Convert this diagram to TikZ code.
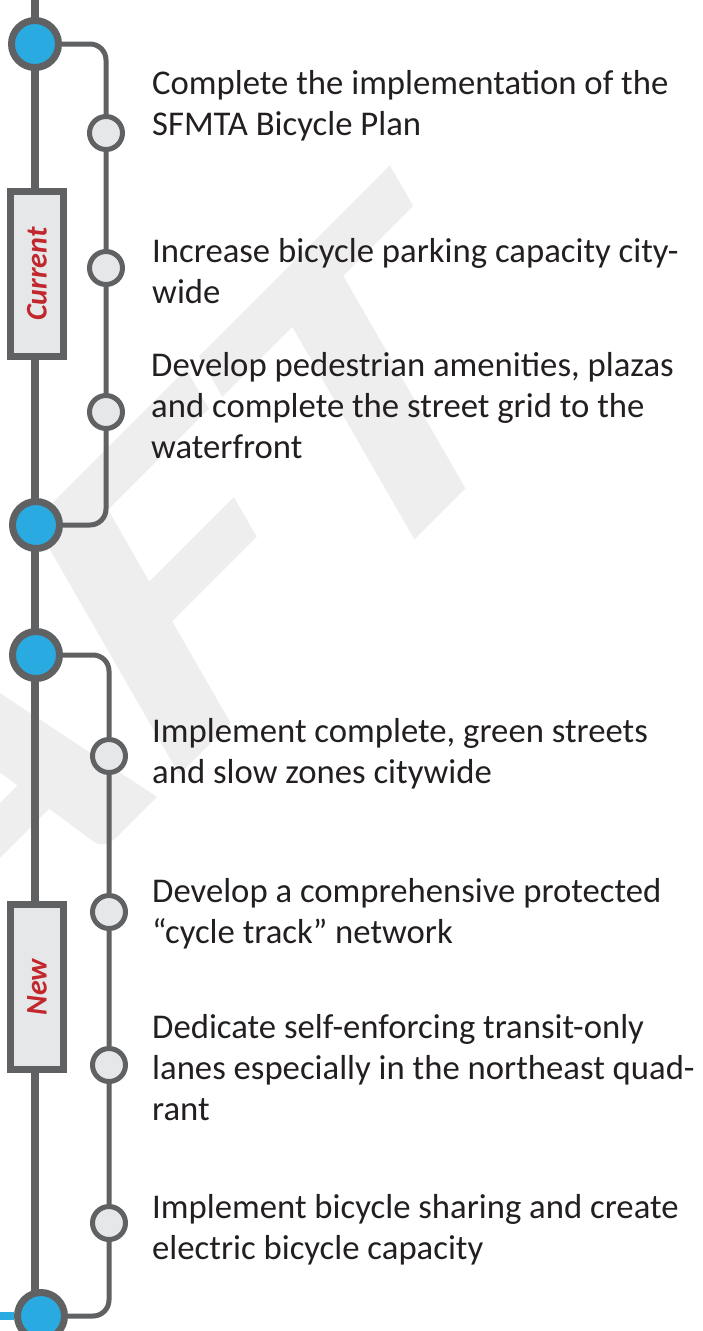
\documentclass[tikz,border=0pt]{standalone}
\usepackage{fontspec}
\setmainfont{Carlito}
\usetikzlibrary{backgrounds}
\definecolor{linegray}{RGB}{96,97,99}
\definecolor{dotblue}{RGB}{41,171,226}
\definecolor{boxfill}{RGB}{230,231,232}
\definecolor{labelred}{RGB}{193,39,45}
\definecolor{draftgray}{RGB}{238,238,238}
\definecolor{goaltext}{RGB}{35,31,32}
\tikzset{
  hub/.style={circle,draw=linegray,line width=7pt,fill=dotblue,minimum size=47pt,inner sep=0pt},
  stop/.style={circle,draw=linegray,line width=5pt,fill=boxfill,minimum size=33pt,inner sep=0pt},
  phase/.style={draw=linegray,line width=7pt,fill=boxfill,rotate=90,minimum width=165pt,
    minimum height=53pt,inner sep=0pt,text=labelred,font=\fontsize{30}{30}\selectfont\bfseries\itshape},
  trunk/.style={linegray,line width=8pt},
  branch/.style={linegray,line width=5pt,rounded corners=16pt},
  goal/.style={anchor=base west,inner sep=0pt,align=left,text=goaltext,font=\fontsize{34.7}{41}\selectfont},
}
\begin{document}
\begin{tikzpicture}[x=1pt,y=-1pt]
\useasboundingbox (0,0) rectangle (702,1331);
%\draw[step=50,gray,very thin,dashed] (0,0) grid (702,1331);
\coordinate (top) at (35,0);
\coordinate (bottom) at (35,1331);
\coordinate (edge) at (0,1316);
\node[hub] (hub1) at (35,44) {};
\node[hub] (hub2) at (36,525) {};
\node[hub] (hub3) at (36,655) {};
\node[hub] (hub4) at (41,1316) {};
\node[phase] (current) at (37,274) {Current};
\node[phase] (new) at (37,987) {New};
\node[stop] (s1) at (106,133) {};
\node[stop] (s2) at (106,268) {};
\node[stop] (s3) at (106,412) {};
\node[stop] (s4) at (109,756) {};
\node[stop] (s5) at (109,912) {};
\node[stop] (s6) at (109,1065) {};
\node[stop] (s7) at (109,1223) {};
% base anchor sits on the last line
\node[goal] (g1) at (152,135) {Complete the implementation of the\\SFMTA Bicycle Plan};
\node[goal] (g2) at (152,303) {Increase bicycle parking capacity city-\\wide};
\node[goal] (g3) at (151,458) {Develop pedestrian amenities, plazas\\and complete the street grid to the\\waterfront};
\node[goal] (g4) at (152,783) {Implement complete, green streets\\and slow zones citywide};
\node[goal] (g5) at (152,943) {Develop a comprehensive protected\\“cycle track” network};
\node[goal] (g6) at (152,1120) {Dedicate self-enforcing transit-only\\lanes especially in the northeast quad-\\rant};
\node[goal] (g7) at (152,1259) {Implement bicycle sharing and create\\electric bicycle capacity};
\begin{pgfonlayer}{background}
\begin{scope}
\clip (0,0) rectangle (702,1331);
\node[anchor=base east,rotate=45,xslant=0.27,xscale=1.3,inner sep=0pt,text=draftgray,
  font=\fontsize{435}{435}\selectfont\bfseries] (draft) at (540,415) {DRAFT};
\end{scope}
\draw[trunk] (top) -- (bottom);
\draw[branch] (hub1) -| (s1) -- (s2) -- (s3) |- (hub2);
\draw[branch] (hub3) -| (s4) -- (s5) -- (s6) -- (s7) |- (hub4);
\draw[dotblue,line width=8pt] (hub4) -- (edge);
\end{pgfonlayer}
\end{tikzpicture}
\end{document}
